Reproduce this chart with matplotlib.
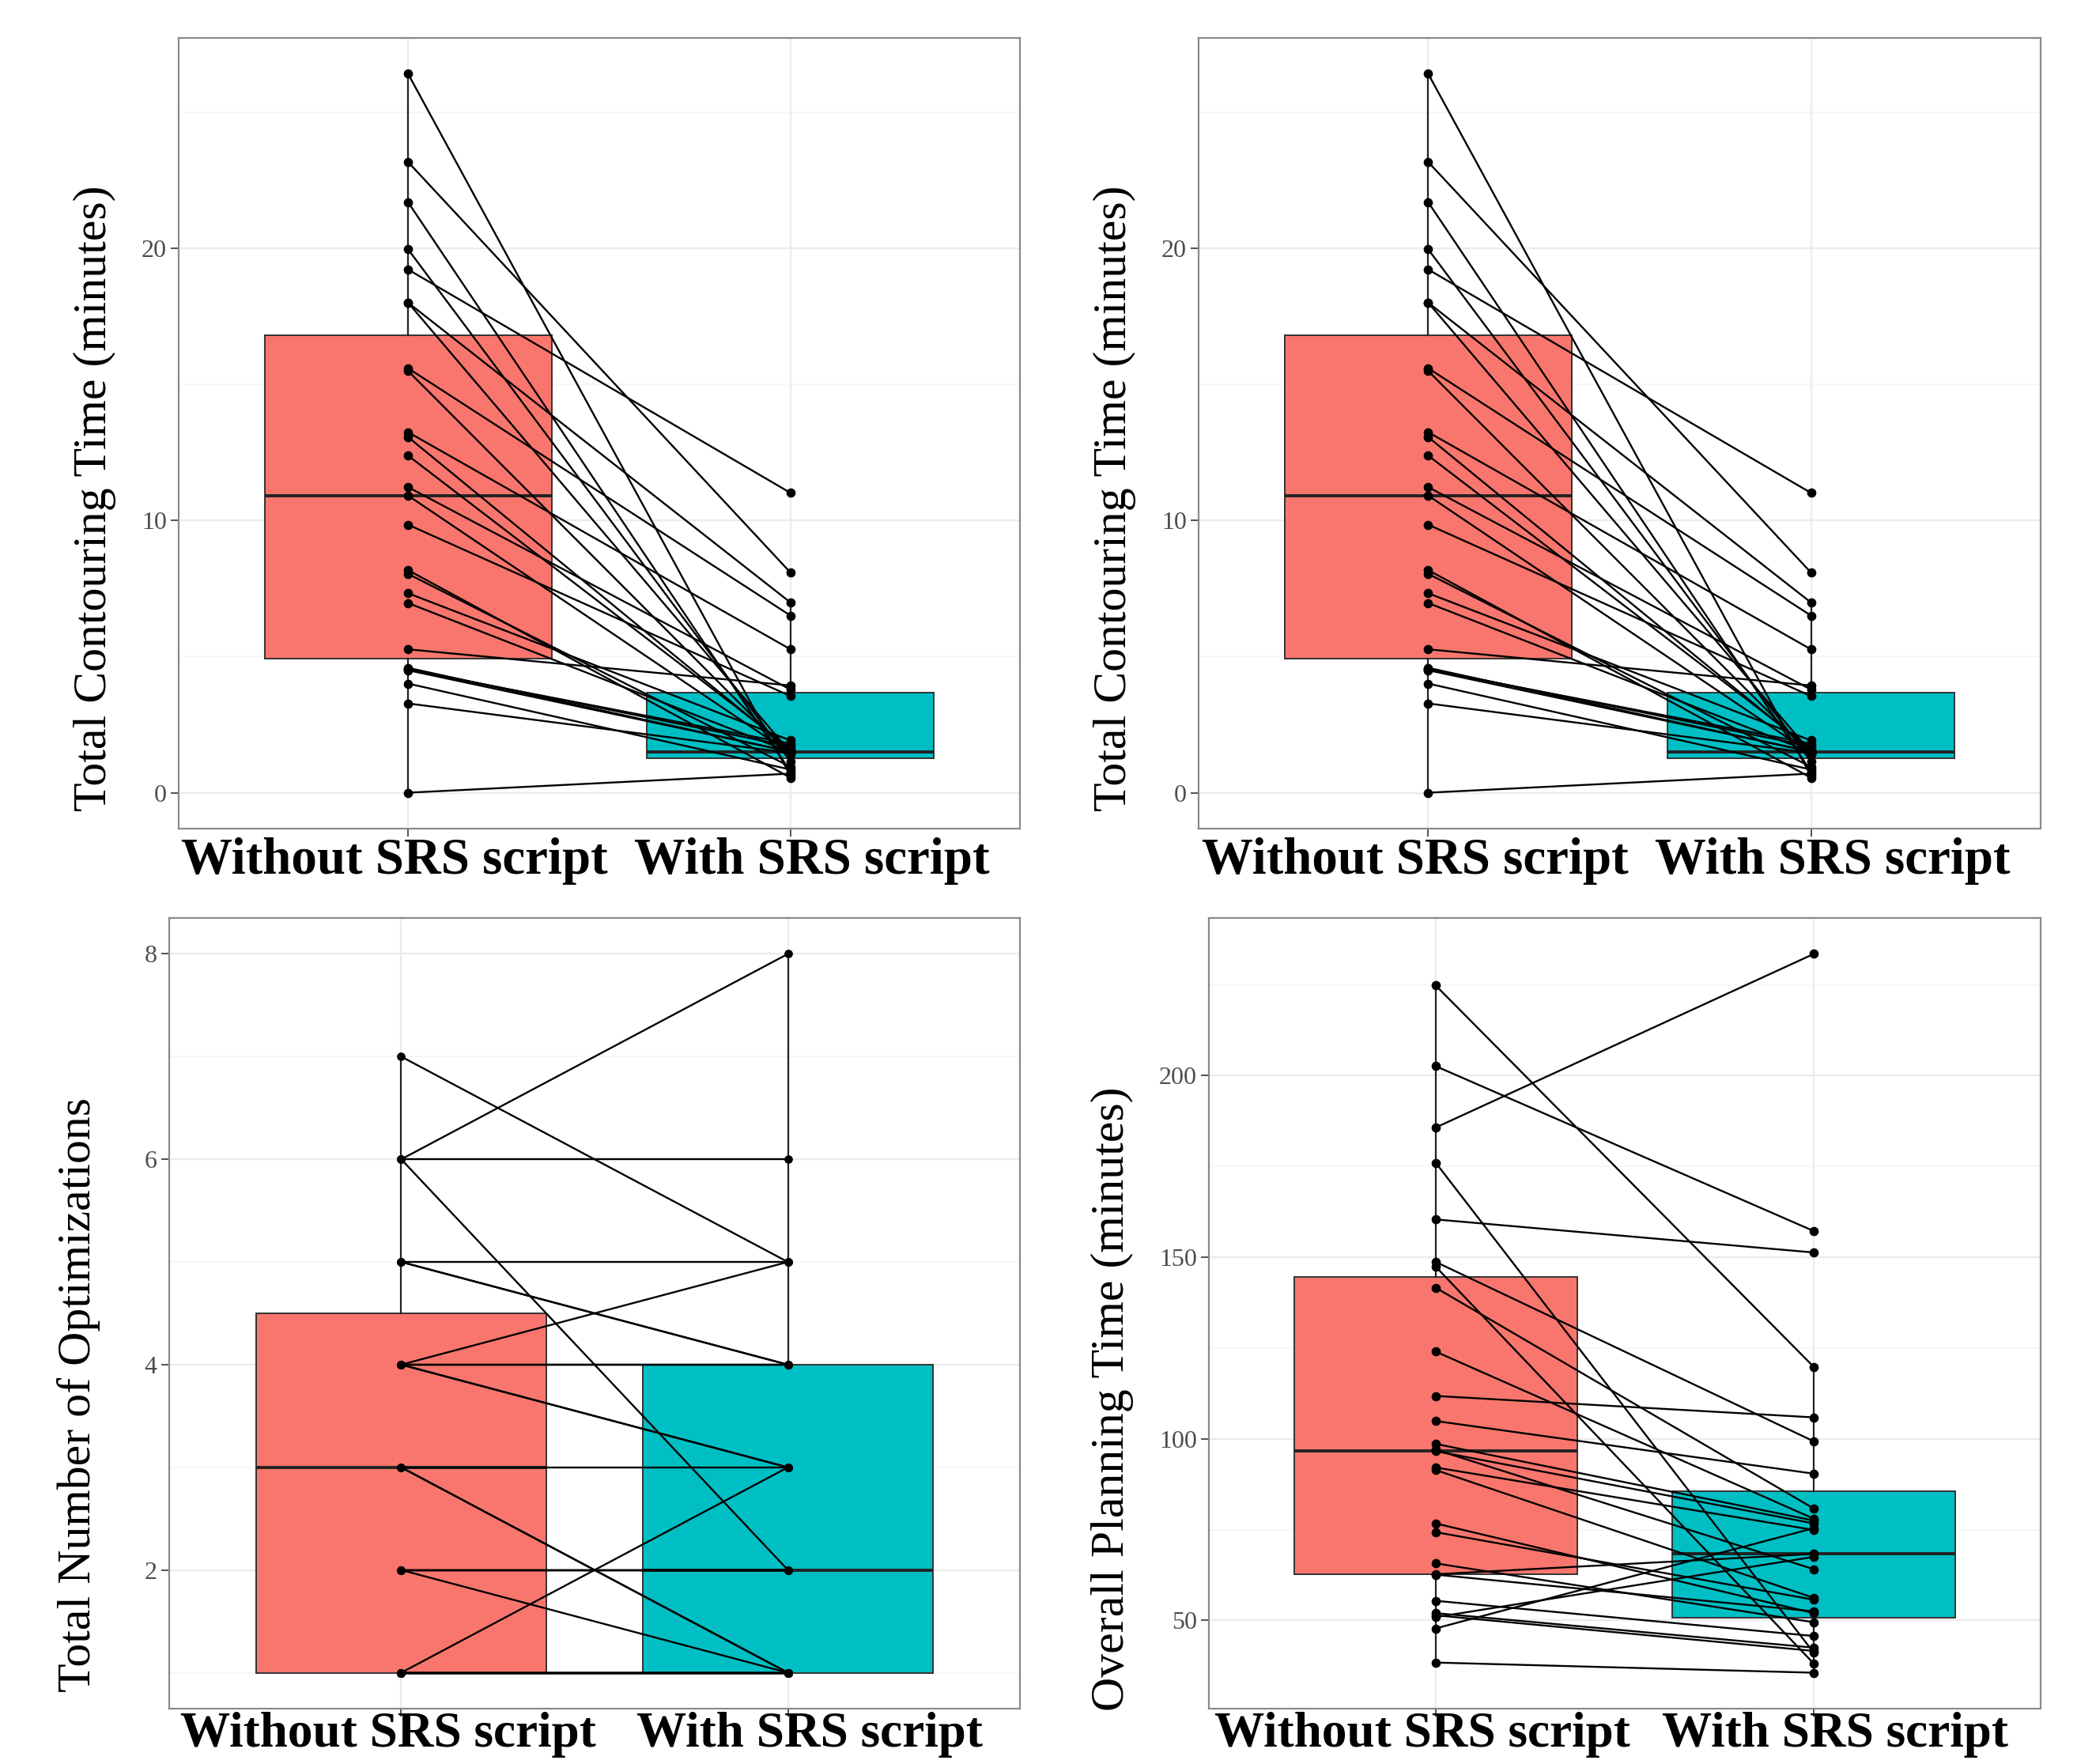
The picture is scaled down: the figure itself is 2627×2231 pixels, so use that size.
import matplotlib
matplotlib.use('Agg')
import matplotlib.pyplot as plt
from matplotlib.transforms import ScaledTranslation
import numpy as np

plt.rcParams['font.family'] = ['Liberation Serif', 'DejaVu Serif']

groups = ['Without SRS script', 'With SRS script']

# contouring time (minutes), paired by patient
contour_without = [26.42, 23.18, 21.70, 19.97, 19.23, 18.01, 18.01, 15.6, 15.5,
                   13.25, 13.07, 12.39, 11.23, 10.92, 9.85, 8.18, 8.04, 7.33,
                   6.97, 5.27, 4.59, 4.55, 4.52, 4.50, 4.01, 3.28, 0.0]
contour_with = [0.62, 8.09, 0.78, 1.15, 11.02, 6.99, 1.48, 6.51, 1.41,
                5.27, 1.55, 1.62, 3.79, 1.44, 3.55, 0.55, 0.95, 1.92,
                1.49, 3.94, 1.50, 1.70, 1.80, 1.51, 0.85, 1.46, 0.70]

# number of optimizations
optim_without = [1, 1, 1, 1, 1, 1, 1, 1, 2, 2, 2, 2, 3, 3, 3,
                 4, 4, 4, 4, 4, 5, 5, 5, 6, 6, 6, 7]
optim_with = [3, 1, 1, 1, 1, 1, 1, 1, 2, 2, 2, 1, 3, 1, 1,
              5, 4, 4, 3, 3, 5, 4, 4, 8, 6, 2, 5]

# overall planning time (minutes)
plan_without = [224.8, 202.6, 185.7, 176.0, 160.4, 148.7, 147.4, 141.6, 124.0,
                111.8, 104.9, 98.6, 97.0, 96.6, 92.1, 91.4, 76.7, 74.3,
                65.7, 62.7, 62.6, 55.4, 52.0, 51.4, 50.9, 47.8, 38.4]
plan_with = [119.8, 157.2, 233.5, 41.1, 151.3, 99.3, 38.1, 80.8, 78.0,
             105.9, 90.4, 77.5, 64.1, 76.7, 74.9, 56.2, 52.0, 55.7,
             49.5, 68.3, 52.5, 45.7, 42.5, 41.6, 67.5, 75.4, 35.6]

W, H = 2627, 2231
fig = plt.figure(figsize=(W / 100, H / 100), dpi=100)
fig.patch.set_facecolor('white')


def rect(l, t, r, b):
    return [l / W, 1 - b / H, (r - l) / W, (b - t) / H]


def panel(box, before, after, ylabel, ylab_xy, yticks, minor, ptsize, xl_size, xl_gap):
    ax = fig.add_axes(rect(*box))
    bp = ax.boxplot([before, after], positions=[1, 2], widths=0.75,
                    patch_artist=True, showfliers=False, showcaps=False, whis=1.5,
                    medianprops=dict(color='#222222', lw=2.8),
                    whiskerprops=dict(color='#222222', lw=1.6),
                    boxprops=dict(edgecolor='#333333', lw=1.4))
    for patch, c in zip(bp['boxes'], ['#F8766D', '#00BFC4']):
        patch.set_facecolor(c)
    for a, b in zip(before, after):
        ax.plot([1, 2], [a, b], color='black', lw=1.7, zorder=3)
    ax.scatter([1] * len(before), before, s=ptsize, color='black', zorder=4)
    ax.scatter([2] * len(after), after, s=ptsize, color='black', zorder=4)

    lo = min(min(before), min(after))
    hi = max(max(before), max(after))
    pad = (hi - lo) * 0.05
    ax.set_ylim(lo - pad, hi + pad)
    ax.set_xlim(0.4, 2.6)
    ax.set_xticks([1, 2])
    ax.set_xticklabels(['', ''])
    # group names sit a little apart from their ticks in the original
    for xpos, name, dx in zip([1, 2], groups, [-0.17, 0.27]):
        ax.text(xpos, -xl_gap, name, fontsize=xl_size, fontweight='bold',
                ha='center', va='top',
                transform=ax.get_xaxis_transform() + ScaledTranslation(dx, 0, fig.dpi_scale_trans))
    ax.set_yticks(yticks)
    ax.set_yticks(minor, minor=True)
    ax.tick_params(axis='y', labelsize=23, labelcolor='#4D4D4D')
    ax.tick_params(which='both', length=7, width=1.2, color='#333333', pad=4)
    ax.tick_params(axis='y', which='minor', length=0)
    ax.grid(True, which='major', color='#EBEBEB', lw=1.6, zorder=0)
    ax.grid(True, which='minor', axis='y', color='#F4F4F4', lw=1.1, zorder=0)
    ax.set_axisbelow(True)
    for s in ax.spines.values():
        s.set_color('#8A8A8A')
        s.set_linewidth(1.6)
    fig.text(ylab_xy[0] / W, 1 - ylab_xy[1] / H, ylabel, fontsize=43,
             rotation=90, ha='center', va='center')
    return ax


panel((226, 48, 1290, 1048), contour_without, contour_with,
      'Total Contouring Time (minutes)', (120, 630), [0, 10, 20], [5, 15, 25], 55, 46.7, 0.011)
panel((1516, 48, 2581, 1048), contour_without, contour_with,
      'Total Contouring Time (minutes)', (1410, 630), [0, 10, 20], [5, 15, 25], 55, 46.7, 0.011)
panel((214, 1161, 1290, 2161), optim_without, optim_with,
      'Total Number of Optimizations', (100, 1764), [2, 4, 6, 8], [1, 3, 5, 7], 45, 45.5, 0.004)
panel((1529, 1161, 2581, 2161), plan_without, plan_with,
      'Overall Planning Time (minutes)', (1407, 1769), [50, 100, 150, 200], [75, 125, 175, 225], 55, 45.5, 0.004)

fig.savefig('out.png', dpi=100, facecolor='white')
